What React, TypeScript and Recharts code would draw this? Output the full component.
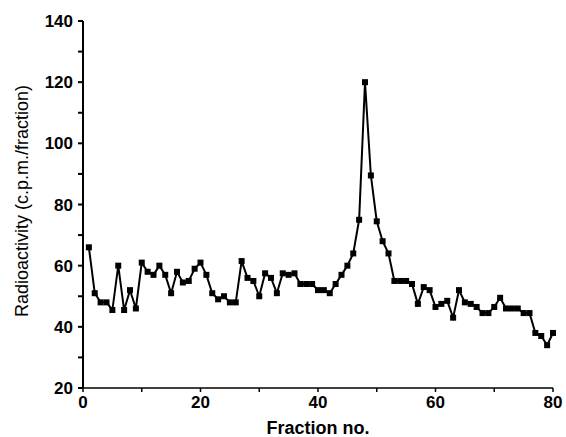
import { LineChart, Line, XAxis, YAxis } from "recharts"

const fractions = [
  1, 2, 3, 4, 5, 6, 7, 8, 9, 10, 11, 12, 13, 14, 15, 16, 17, 18, 19, 20,
  21, 22, 23, 24, 25, 26, 27, 28, 29, 30, 31, 32, 33, 34, 35, 36, 37, 38, 39, 40,
  41, 42, 43, 44, 45, 46, 47, 48, 49, 50, 51, 52, 53, 54, 55, 56, 57, 58, 59, 60,
  61, 62, 63, 64, 65, 66, 67, 68, 69, 70, 71, 72, 73, 74, 75, 76, 77, 78, 79, 80,
]

const radioactivity = [
  66, 51, 48, 48, 45.5, 60, 45.5, 52, 46, 61, 58, 57, 60, 57, 51, 58, 54.5, 55, 59, 61,
  57, 51, 49, 50, 48, 48, 61.5, 56, 55, 50, 57.5, 56, 51, 57.5, 57, 57.5, 54, 54, 54, 52,
  52, 51, 54, 57, 60, 64, 75, 120, 89.5, 74.5, 68, 64, 55, 55, 55, 54, 47.5, 53, 52, 46.5,
  47.5, 48.5, 43, 52, 48, 47.5, 46.5, 44.5, 44.5, 46.5, 49.5, 46, 46, 46, 44.5, 44.5, 38, 37, 34, 38,
]

const xTicks = [0, 10, 20, 30, 40, 50, 60, 70, 80]
const yTicks = [20, 30, 40, 50, 60, 70, 80, 90, 100, 110, 120, 130, 140]
const xLabels = [0, 20, 40, 60, 80]
const yLabels = [20, 40, 60, 80, 100, 120, 140]

const data = fractions.map((f, i) => ({ fraction: f, cpm: radioactivity[i] }))

const font = "'Liberation Sans', Arial, sans-serif"

const SquareDot = (props: any) => {
  const { cx, cy } = props
  if (cx == null || cy == null) return null
  return <rect x={cx - 3} y={cy - 3} width={6} height={6} fill="#000" />
}

export default function App() {
  return (
    <div style={{ position: "absolute", left: 0, top: 0, background: "#fff" }}>
      <LineChart width={566} height={437} data={data} margin={{ top: 21, right: 13, left: 0, bottom: 0 }}>
        <XAxis
          dataKey="fraction"
          type="number"
          domain={[0, 80]}
          ticks={xTicks}
          tickFormatter={(v) => (xLabels.includes(v) ? String(v) : "")}
          height={49}
          stroke="#000"
          strokeWidth={1.5}
          tickSize={4}
          tickMargin={4}
          tick={{ fill: "#000", fontSize: 17, fontWeight: 700, fontFamily: font }}
          label={{
            value: "Fraction no.",
            position: "insideBottom",
            offset: 3,
            fill: "#000",
            fontSize: 18,
            fontWeight: 700,
            fontFamily: font,
          }}
        />
        <YAxis
          type="number"
          domain={[20, 140]}
          ticks={yTicks}
          tickFormatter={(v) => (yLabels.includes(v) ? String(v) : "")}
          width={83}
          stroke="#000"
          strokeWidth={2}
          tickSize={5}
          tickMargin={5}
          tick={{ fill: "#000", fontSize: 17, fontWeight: 700, fontFamily: font }}
          label={{
            content: () => (
              <text
                x={22}
                y={201}
                transform="rotate(-90 22 201)"
                textAnchor="middle"
                dominantBaseline="central"
                fill="#000"
                fontSize={18}
                fontFamily={font}
              >
                Radioactivity (c.p.m./fraction)
              </text>
            ),
          }}
        />
        <Line
          type="linear"
          dataKey="cpm"
          stroke="#000"
          strokeWidth={2}
          dot={<SquareDot />}
          activeDot={false}
          isAnimationActive={false}
        />
      </LineChart>
    </div>
  )
}
